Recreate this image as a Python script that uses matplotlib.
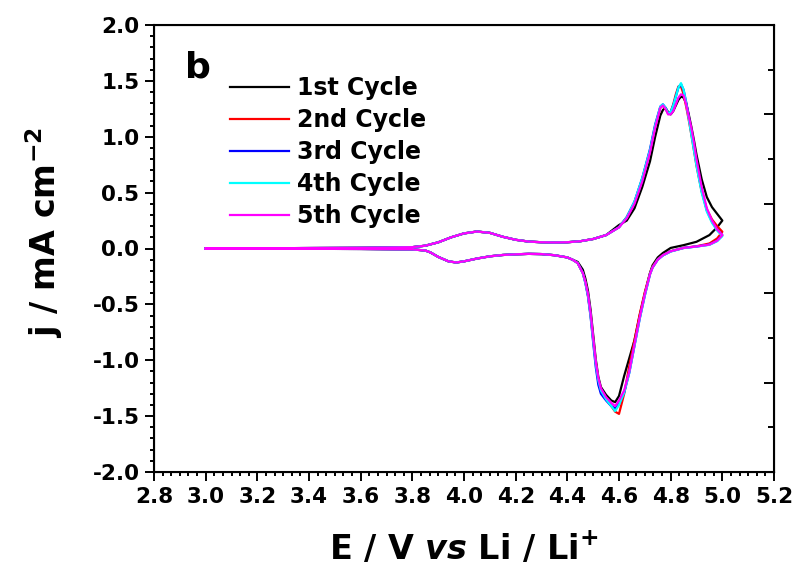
import matplotlib.pyplot as plt
from matplotlib.ticker import AutoMinorLocator, MultipleLocator, FixedLocator

plt.rcParams['font.family'] = 'DejaVu Sans'
plt.rcParams['font.weight'] = 'bold'
plt.rcParams['axes.labelweight'] = 'bold'
plt.rcParams['mathtext.fontset'] = 'custom'
plt.rcParams['mathtext.rm'] = 'DejaVu Sans:bold'
plt.rcParams['mathtext.bf'] = 'DejaVu Sans:bold'
plt.rcParams['mathtext.it'] = 'DejaVu Sans:italic:bold'

# --- anodic sweep, 3.0 -> 4.55 V (all cycles overlap here)
E_fwd_low = [3.0, 3.2, 3.4, 3.6, 3.7, 3.8, 3.85, 3.9, 3.95, 4.0, 4.05, 4.1,
             4.15, 4.2, 4.25, 4.3, 4.35, 4.4, 4.45, 4.5, 4.55]
j_fwd_low = [0.0, 0.002, 0.004, 0.006, 0.008, 0.012, 0.025, 0.055, 0.10, 0.135,
             0.152, 0.14, 0.105, 0.078, 0.062, 0.056, 0.054, 0.056, 0.065,
             0.085, 0.12]

# --- anodic sweep, 4.6 -> 5.0 V
E_fwd_high = [4.6, 4.63, 4.66, 4.69, 4.72, 4.74, 4.76, 4.77, 4.78, 4.79, 4.80,
              4.81, 4.82, 4.83, 4.84, 4.85, 4.86, 4.87, 4.88, 4.89, 4.90, 4.92,
              4.94, 4.96, 4.98, 5.0]
j1_fwd = [0.21, 0.25, 0.36, 0.55, 0.78, 1.00, 1.19, 1.24, 1.26, 1.22, 1.20,
          1.23, 1.28, 1.33, 1.36, 1.35, 1.30, 1.20, 1.09, 0.97, 0.84, 0.62,
          0.46, 0.37, 0.31, 0.25]
j2_fwd = [0.19, 0.28, 0.41, 0.62, 0.87, 1.09, 1.26, 1.28, 1.25, 1.21, 1.22,
          1.29, 1.38, 1.45, 1.45, 1.38, 1.27, 1.15, 1.02, 0.88, 0.74, 0.51,
          0.35, 0.26, 0.20, 0.15]
j3_fwd = [0.19, 0.28, 0.42, 0.63, 0.89, 1.11, 1.27, 1.29, 1.26, 1.21, 1.22,
          1.28, 1.36, 1.44, 1.47, 1.42, 1.31, 1.18, 1.04, 0.90, 0.76, 0.52,
          0.34, 0.24, 0.17, 0.12]
j4_fwd = [0.19, 0.28, 0.42, 0.63, 0.88, 1.10, 1.27, 1.29, 1.26, 1.21, 1.22,
          1.28, 1.36, 1.44, 1.48, 1.42, 1.30, 1.16, 1.02, 0.88, 0.74, 0.50,
          0.33, 0.23, 0.16, 0.11]
j5_fwd = [0.19, 0.27, 0.40, 0.60, 0.86, 1.08, 1.26, 1.28, 1.25, 1.20, 1.20,
          1.23, 1.29, 1.35, 1.38, 1.37, 1.29, 1.18, 1.08, 0.95, 0.80, 0.55,
          0.36, 0.25, 0.17, 0.12]

# --- cathodic sweep, 5.0 -> 4.44 V
E_rev_high = [5.0, 4.98, 4.95, 4.9, 4.85, 4.8, 4.77, 4.75, 4.73, 4.72, 4.70,
              4.68, 4.66, 4.64, 4.62, 4.60, 4.585, 4.57, 4.55, 4.53, 4.52,
              4.51, 4.50, 4.49, 4.48, 4.47, 4.46, 4.44]
j1_rev = [0.25, 0.19, 0.12, 0.06, 0.03, 0.005, -0.04, -0.08, -0.15, -0.22,
          -0.40, -0.60, -0.82, -0.98, -1.14, -1.32, -1.375, -1.36, -1.31,
          -1.24, -1.15, -0.99, -0.77, -0.55, -0.38, -0.27, -0.19, -0.12]
j2_rev = [0.15, 0.09, 0.045, 0.02, 0.006, -0.024, -0.058, -0.095, -0.16, -0.22,
          -0.39, -0.59, -0.82, -1.05, -1.30, -1.48, -1.46, -1.41, -1.34,
          -1.26, -1.17, -1.02, -0.81, -0.59, -0.42, -0.30, -0.22, -0.13]
j3_rev = [0.12, 0.07, 0.035, 0.018, 0.005, -0.026, -0.062, -0.10, -0.17, -0.23,
          -0.42, -0.63, -0.87, -1.11, -1.29, -1.39, -1.43, -1.41, -1.36,
          -1.30, -1.22, -1.06, -0.84, -0.61, -0.43, -0.31, -0.22, -0.13]
j4_rev = [0.11, 0.065, 0.033, 0.017, 0.004, -0.027, -0.062, -0.10, -0.17,
          -0.23, -0.42, -0.63, -0.87, -1.11, -1.29, -1.40, -1.455, -1.41,
          -1.35, -1.27, -1.18, -1.03, -0.82, -0.60, -0.42, -0.31, -0.22, -0.13]
j5_rev = [0.12, 0.07, 0.035, 0.018, 0.005, -0.025, -0.06, -0.10, -0.17, -0.23,
          -0.41, -0.62, -0.86, -1.10, -1.27, -1.36, -1.41, -1.38, -1.33,
          -1.25, -1.16, -1.01, -0.80, -0.58, -0.41, -0.30, -0.22, -0.13]

# --- cathodic sweep, 4.42 -> 3.0 V (all cycles overlap here)
E_rev_low = [4.42, 4.40, 4.35, 4.30, 4.25, 4.2, 4.15, 4.1, 4.05, 4.0, 3.97,
             3.94, 3.9, 3.87, 3.85, 3.8, 3.6, 3.4, 3.2, 3.0]
j_rev_low = [-0.10, -0.08, -0.06, -0.05, -0.048, -0.052, -0.058, -0.07, -0.09,
             -0.115, -0.125, -0.115, -0.075, -0.035, -0.018, -0.008, -0.004,
             -0.003, -0.002, -0.002]

labels = ['1st Cycle', '2nd Cycle', '3rd Cycle', '4th Cycle', '5th Cycle']
colors = ['#000000', '#ff0000', '#0000ff', '#00ffff', '#ff00ff']
fwd = [j1_fwd, j2_fwd, j3_fwd, j4_fwd, j5_fwd]
rev = [j1_rev, j2_rev, j3_rev, j4_rev, j5_rev]

fig = plt.figure(figsize=(7.97, 5.69), dpi=100)
ax = fig.add_axes([154 / 797, 97 / 569, 620 / 797, 447 / 569])

E_all = E_fwd_low + E_fwd_high + E_rev_high + E_rev_low
for lab, col, jf, jr in zip(labels, colors, fwd, rev):
    j_all = j_fwd_low + jf + jr + j_rev_low
    ax.plot(E_all, j_all, color=col, lw=1.6, label=lab)

ax.set_xlim(2.8, 5.2)
ax.set_ylim(-2.0, 2.0)
ax.xaxis.set_major_locator(MultipleLocator(0.2))
ax.xaxis.set_minor_locator(AutoMinorLocator(6))
ax.yaxis.set_major_locator(MultipleLocator(0.5))
ax.yaxis.set_minor_locator(AutoMinorLocator(5))
ax.xaxis.set_major_formatter(plt.FormatStrFormatter('%.1f'))
ax.yaxis.set_major_formatter(plt.FormatStrFormatter('%.1f'))

ax.tick_params(which='both', direction='out', top=False, right=False,
               width=1.4, labelsize=15.5)
ax.tick_params(which='major', length=6.5, pad=4)
ax.tick_params(which='minor', length=3)
for sp in ax.spines.values():
    sp.set_linewidth(1.5)

# independent tick marks on the right-hand frame
ax_r = ax.twinx()
ax_r.set_ylim(0, 10)
ax_r.yaxis.set_major_locator(FixedLocator([2, 4, 6, 8]))
ax_r.yaxis.set_minor_locator(FixedLocator([1, 3, 5, 7, 9]))
ax_r.tick_params(which='both', direction='in', width=1.4, labelright=False)
ax_r.tick_params(which='major', length=7)
ax_r.tick_params(which='minor', length=4)

ax.set_xlabel('E / V $\\mathit{vs}$ Li / Li$^{\\mathbf{+}}$', fontsize=24,
              fontweight='bold', labelpad=18)
ax.set_ylabel('j / mA cm$^{\\mathbf{-2}}$', fontsize=24, fontweight='bold')
ax.yaxis.set_label_coords(-0.143, 0.535)

fig.text(185 / 797, 1 - 78 / 569, 'b', fontsize=26, ha='left', va='baseline')

ax.legend(loc='upper left', bbox_to_anchor=(230 / 797, 1 - 76 / 569),
          bbox_transform=fig.transFigure, frameon=False, fontsize=17,
          handlelength=2.5, handletextpad=0.33, labelspacing=0.34,
          borderpad=0, borderaxespad=0)

fig.savefig('out.png', dpi=100)
